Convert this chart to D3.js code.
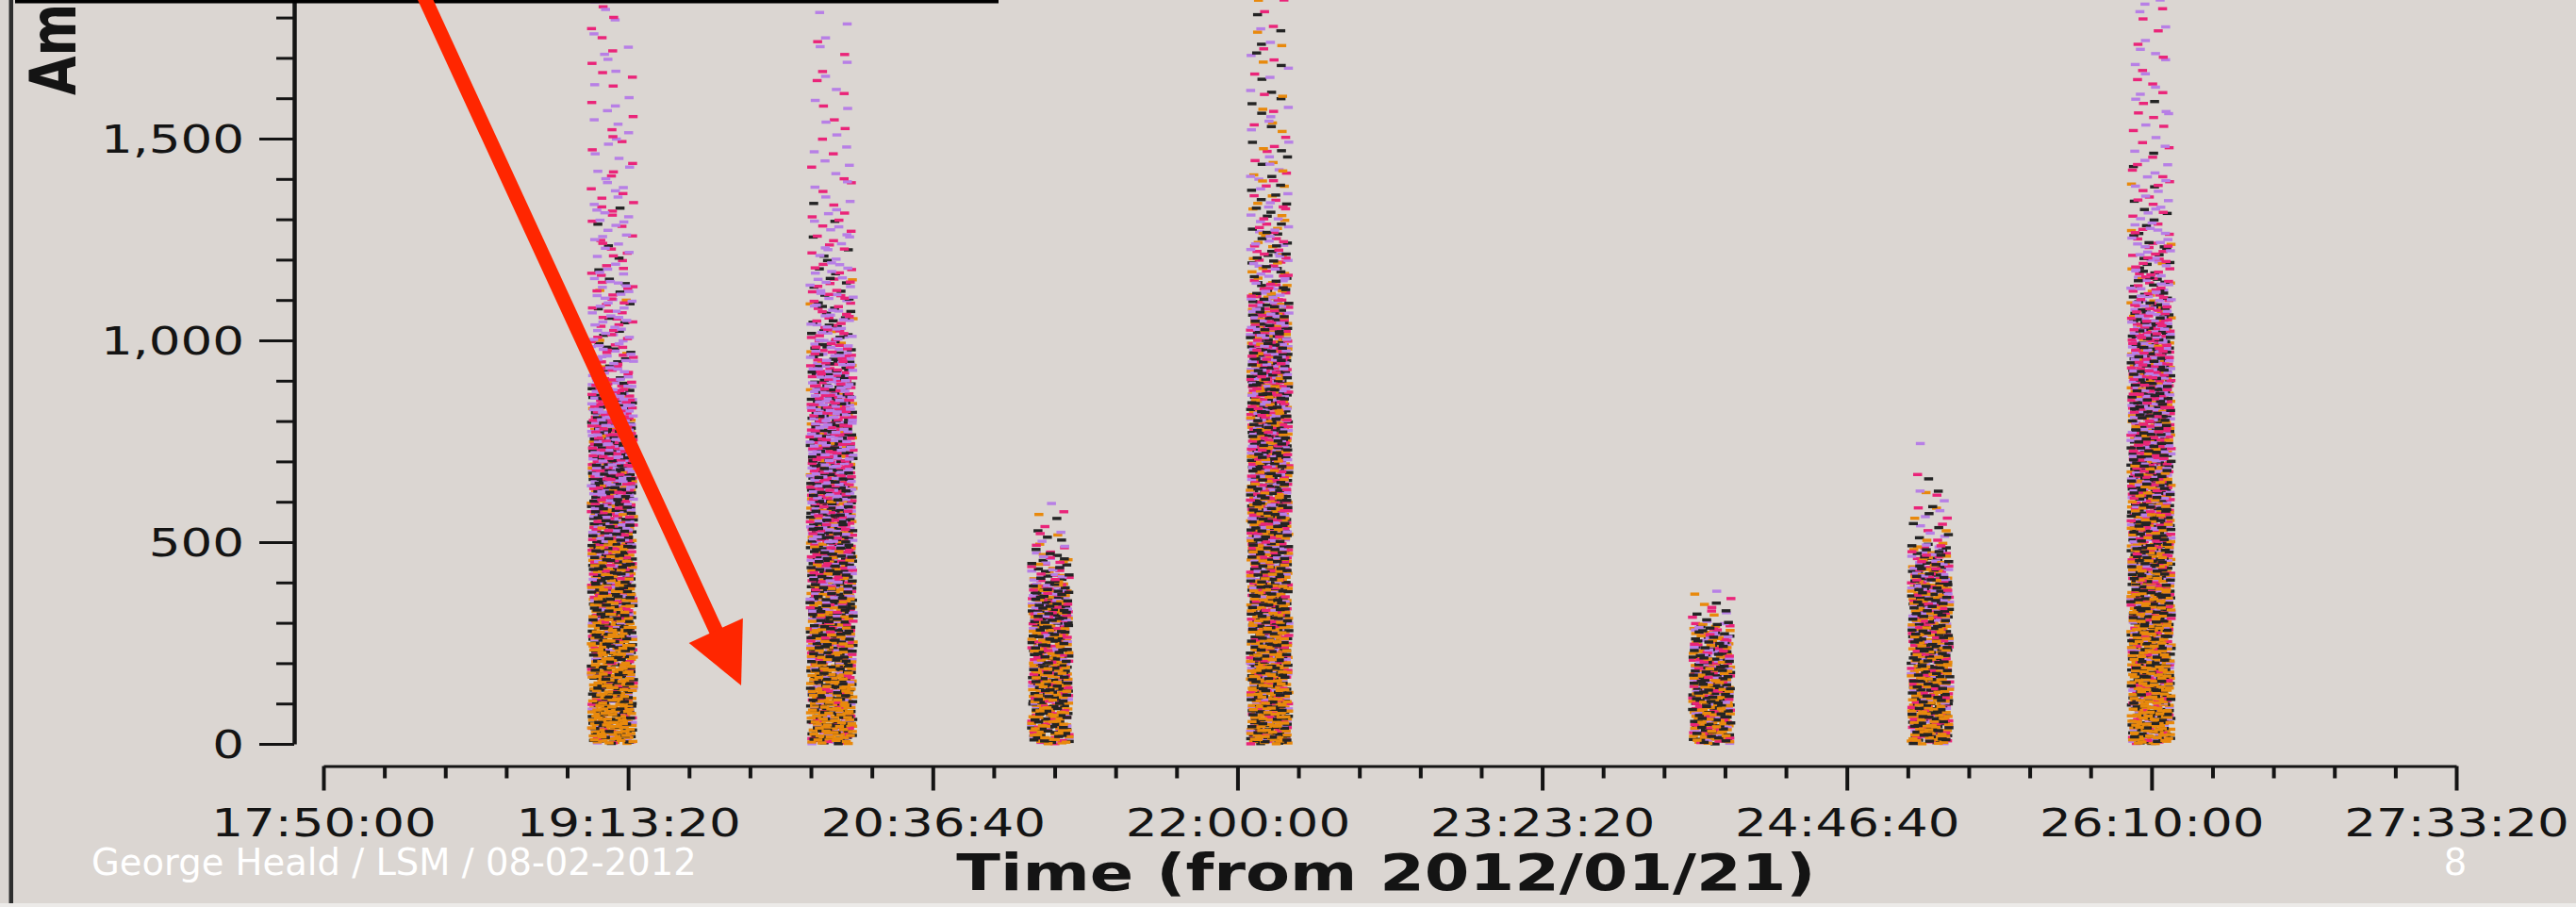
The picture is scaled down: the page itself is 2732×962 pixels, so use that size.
<!DOCTYPE html>
<html>
<head>
<meta charset="utf-8">
<script src="https://cdn.jsdelivr.net/npm/d3@7"></script>
<style>
  html, body { margin: 0; padding: 0; background: #dbd6d2; }
  svg { display: block; }
</style>
</head>
<body>
<svg id="chart" width="2732" height="962"></svg>
<script>
// ---- data ---------------------------------------------------------------
// Scan windows: first and last integration centre of each calibrator scan
const scanStart = ["19:03:15", "20:03:05", "21:03:40", "22:03:30", "24:04:25", "25:04:15", "26:04:20"];
const scanEnd   = ["19:14:50", "20:14:55", "21:14:00", "22:14:05", "24:15:00", "25:14:50", "26:15:25"];

// Visibility counts per amplitude bin of 100 (bin i covers i*100 .. i*100+100),
// one row per scan, one array per correlation colour
const orangeCounts = [
  [75, 70, 64, 52, 42, 33, 27, 21, 10, 3, 2, 1, 0, 0, 0, 0, 0, 0, 0],
  [72, 60, 48, 40, 34, 28, 24, 20, 12, 6, 3, 1, 0, 0, 0, 0, 0, 0, 0],
  [55, 50, 42, 36, 10, 2],
  [64, 58, 52, 48, 45, 42, 40, 38, 36, 34, 24, 13, 8, 6, 4, 3, 2, 2, 2],
  [50, 44, 26, 3],
  [52, 48, 44, 38, 22, 4, 1, 0],
  [70, 64, 58, 52, 47, 42, 38, 34, 30, 26, 14, 6, 2, 1, 0, 0, 0, 0, 0]
];
const blackCounts = [
  [48, 50, 50, 50, 50, 47, 44, 40, 23, 10, 6, 4, 3, 1, 0, 0, 0, 0, 0],
  [48, 50, 50, 50, 49, 47, 44, 40, 30, 22, 14, 9, 4, 1, 0, 0, 0, 0, 0],
  [48, 48, 48, 47, 15, 4],
  [48, 48, 48, 48, 47, 47, 46, 46, 45, 42, 30, 16, 11, 8, 5, 4, 3, 3, 2],
  [48, 48, 33, 5],
  [48, 48, 48, 46, 28, 6, 2, 0],
  [48, 48, 48, 48, 47, 46, 46, 46, 45, 42, 28, 16, 9, 4, 2, 1, 0, 0, 0]
];
const pinkCounts = [
  [22, 23, 24, 28, 33, 37, 40, 45, 34, 19, 14, 11, 8, 7, 5, 4, 4, 3, 3],
  [22, 26, 30, 33, 35, 38, 41, 44, 36, 27, 18, 13, 8, 5, 4, 3, 3, 2, 2],
  [25, 27, 30, 32, 13, 3],
  [25, 27, 30, 31, 32, 33, 35, 36, 37, 38, 28, 15, 10, 7, 4, 3, 3, 2, 3],
  [28, 30, 23, 4],
  [27, 28, 29, 31, 21, 5, 2, 0],
  [22, 25, 27, 30, 32, 34, 36, 38, 40, 42, 30, 19, 13, 8, 6, 5, 4, 4, 3]
];
const purpleCounts = [
  [15, 16, 18, 24, 27, 35, 41, 46, 38, 23, 18, 14, 11, 8, 7, 5, 4, 4, 3],
  [17, 21, 27, 31, 35, 39, 43, 48, 42, 30, 20, 15, 10, 6, 5, 4, 3, 3, 2],
  [20, 23, 25, 28, 12, 3],
  [20, 23, 25, 27, 28, 30, 31, 32, 33, 36, 28, 16, 11, 7, 5, 4, 3, 3, 2],
  [22, 25, 20, 3],
  [20, 22, 24, 27, 19, 5, 2, 1],
  [18, 20, 23, 25, 27, 30, 32, 34, 36, 40, 28, 19, 14, 9, 6, 5, 5, 4, 4]
];

const xTickLabels = ["17:50:00", "19:13:20", "20:36:40", "22:00:00", "23:23:20", "24:46:40", "26:10:00", "27:33:20"];
const yTickValues = [0, 500, 1000, 1500];

// annotation arrow, in (time, amplitude)
const arrowFrom = ["18:16:35", 1870];
const arrowTo   = ["19:44:15", 145];

// ---- helpers ------------------------------------------------------------
const toSec = s => { const [h, m, ss] = s.split(":").map(Number); return h * 3600 + m * 60 + ss; };
const SX = 1.28;                 // the exported plot is stretched horizontally
const FONT = "DejaVu Sans";
const INK = "#141414";

// radical inverse (Halton sequence) used to spread dashes inside a bin
function halton(i, base) {
  let f = 1, r = 0;
  while (i > 0) { f /= base; r += f * (i % base); i = Math.floor(i / base); }
  return r;
}
// position inside a bin whose density runs linearly from lo (bottom) to hi (top)
function inBin(w, lo, hi) {
  if (Math.abs(hi - lo) < 1e-6) return w;
  return (-lo + Math.sqrt(lo * lo + (hi * hi - lo * lo) * w)) / (hi - lo);
}

const svg = d3.select("#chart");
svg.append("rect").attr("width", 2732).attr("height", 962).attr("fill", "#dbd6d2");

// ---- scales -------------------------------------------------------------
const x = d3.scaleLinear()
  .domain([toSec(xTickLabels[0]), toSec(xTickLabels[xTickLabels.length - 1])])
  .range([343, 2605]);
const y = d3.scaleLinear()
  .domain([0, 1900])
  .range([789, 789 - 1900 * 642 / 1500]);

// ---- visibilities -------------------------------------------------------
const series = [
  { color: "#e8890c", counts: orangeCounts },
  { color: "#242424", counts: blackCounts },
  { color: "#ea2479", counts: pinkCounts },
  { color: "#b77fe6", counts: purpleCounts }
];

const pts = [];
scanStart.forEach((st, s) => {
  const t0 = toSec(st), t1 = toSec(scanEnd[s]);
  const nb = d3.max(series, d => d.counts[s].length);
  const tot = d3.range(nb).map(b => d3.sum(series, d => d.counts[s][b] || 0));
  for (let b = 0; b < nb; b++) {
    const c = series.map(d => d.counts[s][b] || 0);
    const n = d3.max(c);
    const lo = b === 0 ? tot[0] : (tot[b - 1] + tot[b]) / 2;
    const hi = ((tot[b + 1] || 0) + tot[b]) / 2;
    for (let i = 0; i < n; i++) {
      series.forEach((d, j) => {
        if (i < c[j]) {
          // each correlation follows its own stretch of the sequence
          const k = 1 + (s * 19 + b) * 97 + j * 4999 + i;
          const u = halton(k, 2);
          const v = inBin(halton(k, 3), lo, hi);
          pts.push({ t: t0 + u * (t1 - t0), a: (b + v) * 100, color: d.color });
        }
      });
    }
  }
});

svg.append("g").selectAll("rect").data(pts).join("rect")
  .attr("x", d => x(d.t) - 4.75)
  .attr("y", d => y(d.a) - 1.7)
  .attr("width", 9.5)
  .attr("height", 3.4)
  .attr("fill", d => d.color);

// ---- axes ---------------------------------------------------------------
const xMajor = xTickLabels.map(toSec);
const xMinor = d3.range(xMajor[0], xMajor[xMajor.length - 1] + 1, 1000).filter(v => !xMajor.includes(v));

const gxMinor = svg.append("g").attr("transform", "translate(0,812.5)")
  .call(d3.axisBottom(x).tickValues(xMinor).tickSize(13).tickSizeOuter(0).tickFormat(""));
gxMinor.select(".domain").remove();
gxMinor.selectAll(".tick line").attr("stroke", INK).attr("stroke-width", 4);

const gx = svg.append("g").attr("transform", "translate(0,812.5)")
  .call(d3.axisBottom(x).tickValues(xMajor).tickFormat((d, i) => xTickLabels[i]).tickSize(26).tickSizeOuter(0))
  .attr("font-family", FONT).attr("font-size", 41.5);
gx.select(".domain").attr("stroke", INK).attr("stroke-width", 3);
gx.selectAll(".tick line").attr("stroke", INK).attr("stroke-width", 4);
gx.selectAll(".tick text").attr("fill", INK).attr("y", 74.5).attr("dy", null)
  .attr("transform", `scale(${SX},1)`);

const yMinor = d3.range(0, 1901, 100);
const gyMinor = svg.append("g").attr("transform", "translate(312,0)")
  .call(d3.axisLeft(y).tickValues(yMinor).tickSize(19).tickSizeOuter(0).tickFormat(""));
gyMinor.select(".domain").remove();
gyMinor.selectAll(".tick line").attr("stroke", INK).attr("stroke-width", 3);

const gy = svg.append("g").attr("transform", "translate(312,0)")
  .call(d3.axisLeft(y).tickValues(yTickValues).tickFormat(d3.format(",")).tickSize(37).tickSizeOuter(0))
  .attr("font-family", FONT).attr("font-size", 41.5);
gy.select(".domain").attr("stroke", INK).attr("stroke-width", 4.5);
gy.selectAll(".tick line").attr("stroke", INK).attr("stroke-width", 3);
gy.selectAll(".tick text").attr("fill", INK).attr("x", -53 / SX).attr("dy", "0.36em")
  .attr("transform", `scale(${SX},1)`);

// axis titles
svg.append("text")
  .attr("transform", `translate(1470,944) scale(${SX},1)`)
  .attr("text-anchor", "middle")
  .attr("font-family", FONT).attr("font-weight", "bold").attr("font-size", 53.5)
  .attr("fill", INK)
  .text("Time (from 2012/01/21)");

svg.append("text")
  .attr("transform", `translate(80,101) scale(${SX},1) rotate(-90)`)
  .attr("text-anchor", "start")
  .attr("font-family", FONT).attr("font-weight", "bold").attr("font-size", 53.5)
  .attr("fill", INK)
  .text("Amplitude");

// ---- slide furniture ----------------------------------------------------
svg.append("rect").attr("x", 9.5).attr("y", 0).attr("width", 4.5).attr("height", 958).attr("fill", "#2e2e2e");
svg.append("rect").attr("x", 16).attr("y", 0).attr("width", 1043).attr("height", 3.5).attr("fill", "#000");
svg.append("rect").attr("x", 0).attr("y", 958).attr("width", 2732).attr("height", 4).attr("fill", "#eceae8");

// red arrow pointing at the gap after the first scan
const p0 = [x(toSec(arrowFrom[0])), y(arrowFrom[1])];
const p1 = [x(toSec(arrowTo[0])), y(arrowTo[1])];
const len = Math.hypot(p1[0] - p0[0], p1[1] - p0[1]);
const ux = (p1[0] - p0[0]) / len, uy = (p1[1] - p0[1]) / len;
const headLen = 64, headHalf = 31.5;
const base = [p1[0] - ux * headLen, p1[1] - uy * headLen];
const RED = "#ff2600";
svg.append("line")
  .attr("x1", p0[0]).attr("y1", p0[1])
  .attr("x2", base[0] + ux * 4).attr("y2", base[1] + uy * 4)
  .attr("stroke", RED).attr("stroke-width", 15);
svg.append("polygon")
  .attr("points", [
    p1,
    [base[0] + uy * headHalf, base[1] - ux * headHalf],
    [base[0] - uy * headHalf, base[1] + ux * headHalf]
  ].map(p => p.join(",")).join(" "))
  .attr("fill", RED);

svg.append("text")
  .attr("x", 97).attr("y", 928)
  .attr("font-family", FONT).attr("font-size", 38.5).attr("fill", "#ffffff")
  .text("George Heald / LSM / 08-02-2012");
svg.append("text")
  .attr("x", 2604).attr("y", 928).attr("text-anchor", "middle")
  .attr("font-family", FONT).attr("font-size", 38.5).attr("fill", "#ffffff")
  .text("8");
</script>
</body>
</html>
